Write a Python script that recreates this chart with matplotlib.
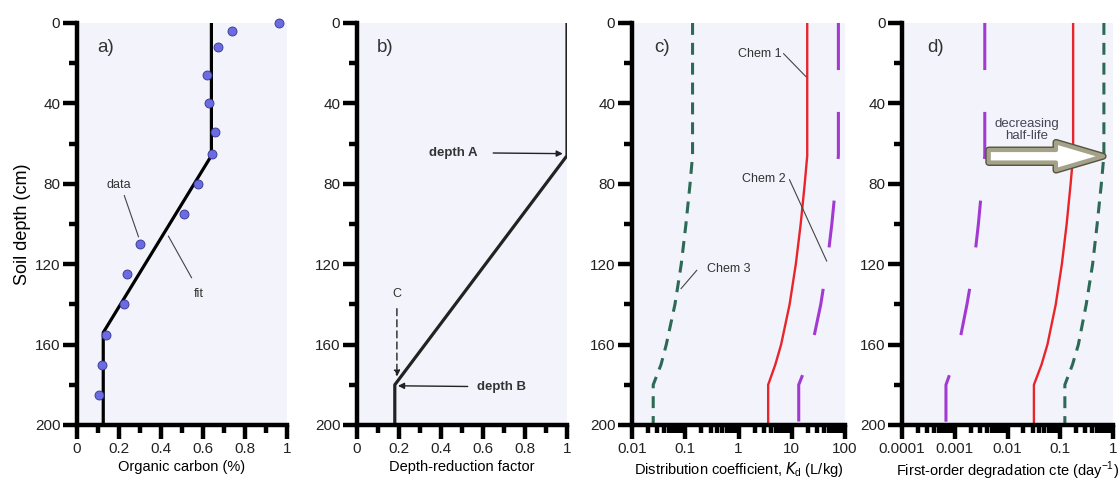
import matplotlib
matplotlib.use("Agg")
import matplotlib.pyplot as plt
from matplotlib.ticker import FixedLocator, NullFormatter, FuncFormatter, LogLocator

plt.rcParams['font.family'] = ['Liberation Sans', 'DejaVu Sans']

# panel a - organic carbon data and piecewise fit
oc_depth = [0, 4, 12, 26, 40, 54, 65, 80, 95, 110, 125, 140, 155, 170, 185]
oc_value = [0.96, 0.74, 0.67, 0.62, 0.63, 0.655, 0.645, 0.575, 0.51, 0.30, 0.24, 0.225, 0.14, 0.12, 0.105]
fit_depth = [0, 66, 154, 200]
fit_value = [0.64, 0.64, 0.125, 0.125]

# panel b - depth-reduction factor
drf_depth = [0, 66, 180, 200]
drf_value = [1.0, 1.0, 0.18, 0.18]

# panels c and d - curves read at these depths
curve_depth = [0, 66, 80, 100, 120, 140, 160, 170, 180, 200]
kd_chem1 = [19.5, 19.5, 17.5, 14.7, 11.9, 9.1, 6.3, 4.9, 3.6, 3.6]
kd_chem2 = [75, 75, 67, 56.5, 46, 35, 24.3, 19, 13.5, 13.5]
kd_chem3 = [0.137, 0.137, 0.123, 0.103, 0.084, 0.064, 0.044, 0.035, 0.025, 0.025]
deg_chem1 = [0.175, 0.175, 0.157, 0.132, 0.107, 0.082, 0.057, 0.044, 0.0316, 0.0316]
deg_chem2 = [0.0037, 0.0037, 0.0033, 0.0028, 0.0023, 0.0017, 0.0012, 0.00093, 0.00068, 0.00068]
deg_chem3 = [0.67, 0.67, 0.6, 0.5, 0.41, 0.31, 0.22, 0.17, 0.122, 0.122]

depth_ticks = [0, 40, 80, 120, 160, 200]
lin_ticks = [0, 0.2, 0.4, 0.6, 0.8, 1]

RED = '#e8252b'
PURPLE = '#a23ad2'
GREEN = '#2d6a55'
BG = '#f3f3fc'
TXT = '#333333'

fig = plt.figure(figsize=(11.2, 4.88), dpi=100)
bottom, height = 0.1291, 0.8238
axa = fig.add_axes([0.06875, bottom, 0.1875, height])
axb = fig.add_axes([0.31875, bottom, 0.1875, height])
axc = fig.add_axes([0.5643, bottom, 0.1902, height])
axd = fig.add_axes([0.8054, bottom, 0.1884, height])


def style(ax):
    ax.set_facecolor(BG)
    for s in ['top', 'right']:
        ax.spines[s].set_visible(False)
    for s in ['left', 'bottom']:
        ax.spines[s].set_linewidth(3.2)
    ax.set_ylim(200, 0)
    ax.yaxis.set_major_locator(FixedLocator(depth_ticks))
    ax.yaxis.set_minor_locator(FixedLocator([20, 60, 100, 140, 180]))
    ax.tick_params(which='major', direction='out', length=10, width=3.2,
                   labelsize=11, pad=2, labelcolor='#222222')
    ax.tick_params(which='minor', direction='out', length=6, width=3.2)


def leader(ax, start, end):
    ax.annotate('', xy=end, xytext=start,
                arrowprops=dict(arrowstyle='-', color='#444444', lw=0.8,
                                shrinkA=0, shrinkB=0))


for ax in [axa, axb]:
    style(ax)
    ax.set_xlim(0, 1)
    ax.xaxis.set_major_locator(FixedLocator(lin_ticks))
    ax.xaxis.set_minor_locator(FixedLocator([0.1, 0.3, 0.5, 0.7, 0.9]))
    ax.xaxis.set_major_formatter(FuncFormatter(lambda v, p: '%g' % v))

for ax, lims in [(axc, (0.01, 100)), (axd, (0.0001, 1))]:
    style(ax)
    ax.set_xscale('log')
    ax.set_xlim(*lims)
    ax.xaxis.set_major_locator(LogLocator(base=10, numticks=10))
    ax.xaxis.set_minor_locator(LogLocator(base=10, subs=range(2, 10), numticks=10))
    ax.xaxis.set_major_formatter(FuncFormatter(lambda v, p: '%g' % v))
    ax.xaxis.set_minor_formatter(NullFormatter())

# panel a
axa.plot(fit_value, fit_depth, color='black', lw=2.3, zorder=2)
axa.scatter(oc_value, oc_depth, s=42, color='#6b6be3', edgecolor='#34348a',
            linewidth=0.6, zorder=3, clip_on=False)
axa.text(0.095, 12, 'a)', fontsize=13.5, color=TXT, va='center')
axa.text(0.2, 80.5, 'data', fontsize=9, ha='center', va='center', color=TXT)
leader(axa, (0.225, 85.8), (0.293, 106.4))
axa.text(0.578, 135, 'fit', fontsize=9, ha='center', va='center', color=TXT)
leader(axa, (0.546, 126.8), (0.435, 106))
axa.set_xlabel('Organic carbon (%)', fontsize=10.5, labelpad=3)
axa.set_ylabel('Soil depth (cm)', fontsize=13, labelpad=3)

# panel b
axb.plot(drf_value, drf_depth, color='#222222', lw=2.3)
axb.text(0.095, 12, 'b)', fontsize=13.5, color=TXT, va='center')
axb.annotate('depth A', xy=(0.98, 65), xytext=(0.46, 64.5), fontsize=9.5,
             fontweight='bold', ha='center', va='center', color=TXT,
             arrowprops=dict(arrowstyle='-|>', color='#222222', lw=1.0,
                             shrinkA=9, shrinkB=0, mutation_scale=9))
axb.annotate('depth B', xy=(0.195, 180.5), xytext=(0.69, 181), fontsize=9.5,
             fontweight='bold', ha='center', va='center', color=TXT,
             arrowprops=dict(arrowstyle='-|>', color='#222222', lw=1.0,
                             shrinkA=5, shrinkB=0, mutation_scale=9))
axb.annotate('C', xy=(0.19, 176), xytext=(0.19, 135), fontsize=9,
             ha='center', va='center', color=TXT,
             arrowprops=dict(arrowstyle='-|>', color='#222222', lw=1.0,
                             linestyle=(0, (5, 3)), shrinkA=4, shrinkB=0,
                             mutation_scale=9))
axb.set_xlabel('Depth-reduction factor', fontsize=10.5, labelpad=3)

# panels c and d - line styles
green_dash = (0, (3.9, 2.6))
purple_dash = (0, (15.4, 13.7))

axc.plot(kd_chem1, curve_depth, color=RED, lw=1.7)
axc.plot(kd_chem2, curve_depth, color=PURPLE, lw=2.2, linestyle=purple_dash)
axc.plot(kd_chem3, curve_depth, color=GREEN, lw=2.2, linestyle=green_dash)
axc.text(0.026, 12, 'c)', fontsize=13.5, color=TXT, va='center')
axc.text(2.55, 15.2, 'Chem 1', fontsize=9, ha='center', va='center', color=TXT)
leader(axc, (6.98, 15.2), (18.6, 26.8))
axc.text(2.95, 77.4, 'Chem 2', fontsize=9, ha='center', va='center', color=TXT)
leader(axc, (9.03, 77.9), (45.3, 118.5))
axc.text(0.65, 122.3, 'Chem 3', fontsize=9, ha='center', va='center', color=TXT)
leader(axc, (0.165, 123), (0.083, 132.2))
axc.set_xlabel('Distribution coefficient, $K_\\mathregular{d}$ (L/kg)',
               fontsize=10.5, labelpad=3)

axd.plot(deg_chem1, curve_depth, color=RED, lw=1.7)
axd.plot(deg_chem2, curve_depth, color=PURPLE, lw=2.2, linestyle=purple_dash)
axd.plot(deg_chem3, curve_depth, color=GREEN, lw=2.2, linestyle=green_dash)
axd.text(0.0003, 12, 'd)', fontsize=13.5, color=TXT, va='center')

# block arrow: dark outline, then olive border with white interior
for ec, lw in [('#55533f', 5.0), ('#a4a288', 3.0)]:
    axd.annotate('', xy=(0.65, 66.3), xytext=(0.0044, 66.3),
                 arrowprops=dict(arrowstyle='simple,head_length=3.4,head_width=2.0,tail_width=0.9',
                                 fc='white', ec=ec, lw=lw, mutation_scale=10,
                                 shrinkA=0, shrinkB=0))
axd.text(0.023, 53, 'decreasing\nhalf-life', fontsize=9.5, ha='center',
         va='center', color='#444455', linespacing=1.0)
axd.set_xlabel('First-order degradation cte (day$^\\mathregular{-1}$)',
               fontsize=10.5, labelpad=3)

fig.savefig('out.png', dpi=100)
